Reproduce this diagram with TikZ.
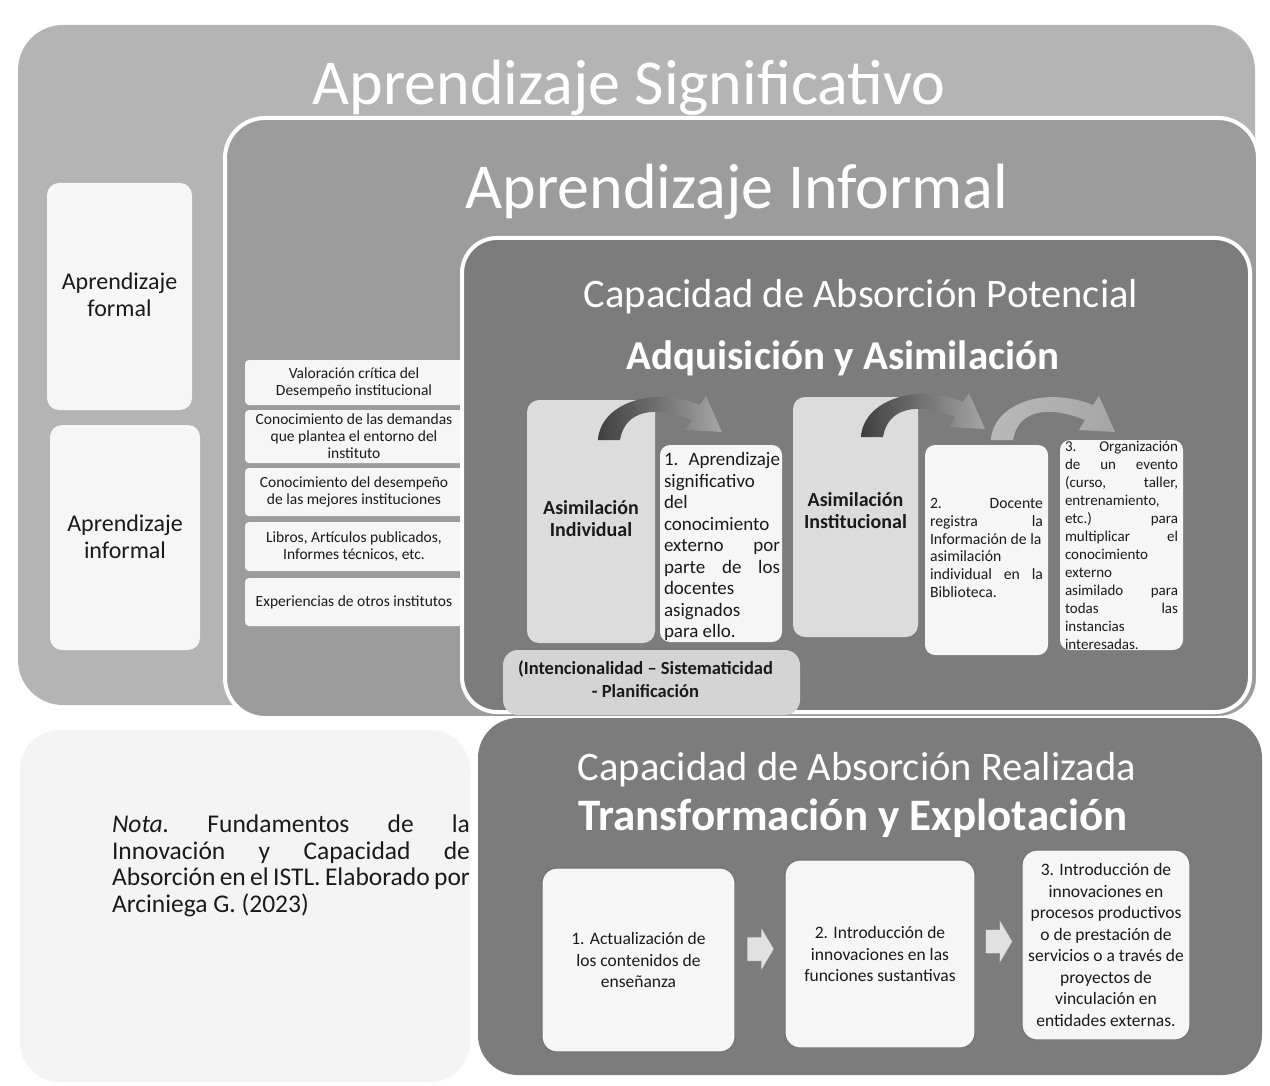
\documentclass[tikz,border=0pt]{standalone}
\usepackage{fontspec}
\setmainfont{Carlito}
\usetikzlibrary{calc}
\definecolor{gOuter}{HTML}{B4B4B4}
\definecolor{gInf}{HTML}{9C9C9C}
\definecolor{gPot}{HTML}{7C7C7C}
\definecolor{gLight}{HTML}{DCDCDC}
\definecolor{gIntenc}{HTML}{D4D4D4}
\definecolor{gWhite}{HTML}{F6F6F6}
\definecolor{gNote}{HTML}{F4F4F4}
\definecolor{gText}{HTML}{1A1A1A}
\begin{document}
\begin{tikzpicture}[x=1pt,y=-1pt,
  every node/.style={text=gText},
  region/.style={anchor=north west, inner sep=0, outer sep=0},
  whitebox/.style={region, fill=gWhite, rounded corners=12},
  listbox/.style={region, fill=gWhite, rounded corners=4},
  listtext/.style={anchor=center, align=center, inner sep=0, font=\fontsize{15.5}{17}\selectfont},
  graybox/.style={region, fill=gLight, rounded corners=12},
  graytext/.style={anchor=center, align=center, inner sep=0, font=\bfseries\fontsize{20}{22}\selectfont},
  stepbox/.style={region, fill=gWhite, rounded corners=10},
  bigtitle/.style={text=white, font=\fontsize{64}{68}\selectfont},
  midtitle/.style={text=white, font=\fontsize{40.5}{44}\selectfont},
  boldtitle/.style={text=white, font=\bfseries\fontsize{41}{44}\selectfont},
  steptext/.style={anchor=center, align=left, inner sep=0},
  flowbox/.style={region, fill=gWhite, rounded corners=15, draw=black!55, line width=1.2pt},
  flowtext/.style={anchor=center, align=center, inner sep=0, font=\fontsize{17.5}{21.5}\selectfont},
  flowarrow/.style={fill=gLight!85, draw=gLight!60!black, line width=0.5pt}
]
\useasboundingbox (0,0) rectangle (1270,1086);
\fill[white] (0,0) rectangle (1270,1086);

% outer container
\node[region, fill=gOuter, rounded corners=45, minimum width=1237, minimum height=680] (outer) at (18,25) {};

% note background
\node[region, fill=gNote, rounded corners=40, minimum width=450, minimum height=352] (notebg) at (20,730) {};
\node[region, font=\fontsize{25.5}{26.5}\selectfont] (nota) at (112,815)
  {\parbox{358pt}{\textit{Nota.}\hfill Fundamentos\hfill de\hfill la\\Innovación\hfill y\hfill Capacidad\hfill de\\Absorción en el ISTL. Elaborado por\\Arciniega G. (2023)}};

% left boxes
\node[whitebox, minimum width=145, minimum height=227] (formal) at (47,183) {};
\node[anchor=center, align=center, font=\fontsize{24}{27}\selectfont] at ($(formal.north)+(0,112)$) {Aprendizaje\\formal};
\node[whitebox, minimum width=150, minimum height=225] (informalL) at (50,425) {};
\node[anchor=center, align=center, font=\fontsize{24}{27}\selectfont] at ($(informalL.north)+(0,112)$) {Aprendizaje\\informal};

% informal container
\node[region, fill=gInf, draw=white, line width=4pt, rounded corners=40, minimum width=1033, minimum height=600] (inf) at (225,118) {};
\node[bigtitle] (tSig) at (629,88) {Aprendizaje Significativo};
\node[bigtitle] (tInf) at (737,192) {Aprendizaje Informal};

% list boxes
\node[listbox, minimum width=218, minimum height=45] (l1) at (245,360) {};
\node[listtext] at (l1.center) {Valoración crítica del\\Desempeño institucional};
\node[listbox, minimum width=218, minimum height=53] (l2) at (245,410) {};
\node[listtext] at (l2.center) {Conocimiento de las demandas\\que plantea el entorno del\\instituto};
\node[listbox, minimum width=218, minimum height=48] (l3) at (245,468) {};
\node[listtext] at (l3.center) {Conocimiento del desempeño\\de las mejores instituciones};
\node[listbox, minimum width=218, minimum height=49] (l4) at (245,522) {};
\node[listtext] at (l4.center) {Libros, Artículos publicados,\\Informes técnicos, etc.};
\node[listbox, minimum width=218, minimum height=48] (l5) at (245,578) {};
\node[listtext] at (l5.center) {Experiencias de otros institutos};

% potential container
\node[region, fill=gPot, draw=white, line width=4pt, rounded corners=35, minimum width=788, minimum height=474] (pot) at (462,238) {};
\node[midtitle] (tPot) at (861,297) {Capacidad de Absorción Potencial};
\node[boldtitle] (tAdq) at (843,358) {Adquisición y Asimilación};

% realizada container
\node[region, fill=gPot, rounded corners=40, minimum width=784, minimum height=357] (real) at (478,718) {};
\node[midtitle] (tReal) at (857,770) {Capacidad de Absorción Realizada};
\node[boldtitle, font=\bfseries\fontsize{45}{48}\selectfont] (tTrans) at (853,818) {Transformación y Explotación};

% assimilation boxes
\node[graybox, minimum width=128, minimum height=243] (ind) at (527,400) {};
\node[graybox, minimum width=125, minimum height=240] (inst) at (793,397) {};

% curved arrows
\newcommand{\bendarrow}[3]{%
  \shade[left color=#2, middle color=#3, right color=gray!70]
    ($(#1)+(-57,40)$) .. controls ($(#1)+(-55,5)$) and ($(#1)+(-5,-15)$) .. ($(#1)+(45,5)$)
    -- ($(#1)+(51,-4)$) -- ($(#1)+(67,32)$) -- ($(#1)+(31,30)$) -- ($(#1)+(37,20)$)
    .. controls ($(#1)+(0,5)$) and ($(#1)+(-30,10)$) .. ($(#1)+(-35,40)$) -- cycle;}
\bendarrow{ind.north east}{black!75}{gray!25}
\bendarrow{inst.north east}{black!75}{gray!25}
\coordinate (a3) at ($(inst.north east)+(130,3)$);
\bendarrow{a3}{gray!55}{gray!25}

\node[graytext] at ($(ind.center)+(0,-3)$) {Asimilación\\Individual};
\node[graytext] at ($(inst.center)+(0,-6)$) {Asimilación\\Institucional};

% step text boxes
\node[stepbox, minimum width=122, minimum height=197] (t1) at (660,445) {};
\node[steptext, font=\fontsize{19}{21.5}\selectfont] at ($(t1.center)+(1,3)$) {%
  \parbox{116pt}{1.\hfill Aprendizaje\\significativo\\del\\conocimiento\\externo\hfill por\\parte\hfill de\hfill los\\docentes\\asignados\\para ello.}};
\node[stepbox, minimum width=123, minimum height=210] (t2) at (925,445) {};
\node[steptext, font=\fontsize{15.7}{17.8}\selectfont] at ($(t2.center)+(0,-2)$) {%
  \parbox{113pt}{2.\hfill Docente\\registra\hfill la\\Información de la\\asimilación\\individual\hfill en\hfill la\\Biblioteca.}};
\node[stepbox, minimum width=123, minimum height=210] (t3) at (1060,440) {};
\node[steptext, font=\fontsize{15}{18}\selectfont] at (t3.center) {%
  \parbox{113pt}{3.\hfill Organización\\de\hfill un\hfill evento\\(curso,\hfill taller,\\entrenamiento,\\etc.)\hfill para\\multiplicar\hfill el\\conocimiento\\externo\\asimilado\hfill para\\todas\hfill las\\instancias\\interesadas.}};

% intencionalidad box
\node[region, fill=gIntenc, rounded corners=15, minimum width=297, minimum height=65] (intenc) at (503,650) {};
\node[anchor=center, align=center, inner sep=0, font=\bfseries\fontsize{18.5}{23}\selectfont] at ($(intenc.center)+(-6,-3)$) {(Intencionalidad -- Sistematicidad\\- Planificación};

% bottom flow
\node[flowbox, minimum width=193, minimum height=184] (b1) at (542,868) {};
\node[flowtext] at (b1.center) {1. Actualización de\\los contenidos de\\enseñanza};
\node[flowbox, minimum width=190, minimum height=188] (b2) at (785,860) {};
\node[flowtext] at (b2.center) {2. Introducción de\\innovaciones en las\\funciones sustantivas};
\node[flowbox, minimum width=168, minimum height=190] (b3) at (1022,850) {};
\node[flowtext] at (b3.center) {3. Introducción de\\innovaciones en\\procesos productivos\\o de prestación de\\servicios o a través de\\proyectos de\\vinculación en\\entidades externas.};
\coordinate (m1) at ($(b1.east)!0.5!(b2.west)+(0,-8)$);
\coordinate (m2) at ($(b2.east)!0.5!(b3.west)+(0,-8)$);
\foreach \m in {m1,m2}{
  \draw[flowarrow] ($(\m)+(-13,-12)$) -- ($(\m)+(1,-12)$) -- ($(\m)+(1,-22)$) -- ($(\m)+(14,0)$)
    -- ($(\m)+(1,22)$) -- ($(\m)+(1,12)$) -- ($(\m)+(-13,12)$) -- cycle;}
\end{tikzpicture}
\end{document}
